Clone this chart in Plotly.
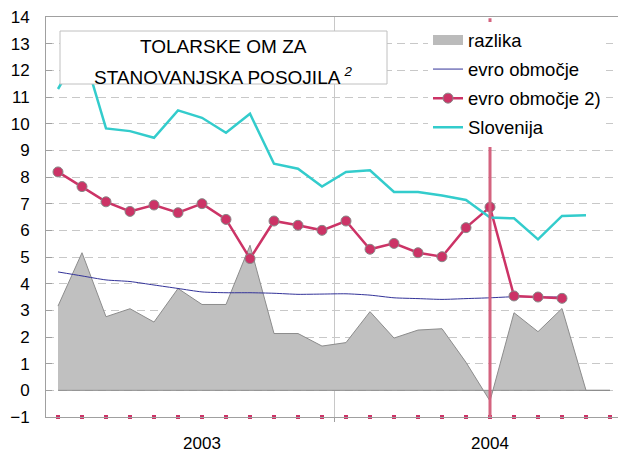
import plotly.graph_objects as go

# ---- data (month index 0 = Jan 2003 ... 23 = Dec 2004) ----
months = list(range(24))
slovenija = [11.3, 12.85, 9.82, 9.72, 9.47, 10.5, 10.22, 9.66, 10.37, 8.5, 8.31, 7.64,
             8.19, 8.25, 7.44, 7.44, 7.31, 7.14, 6.48, 6.45, 5.66, 6.54, 6.57, None]
evro2 = [8.19, 7.64, 7.07, 6.71, 6.95, 6.66, 7.0, 6.41, 4.94, 6.35, 6.19, 6.0,
         6.35, 5.29, 5.51, 5.16, 5.01, 6.1, 6.87, 3.54, 3.5, 3.45, None, None]
evro = [4.44, 4.29, 4.14, 4.08, 3.95, 3.82, 3.69, 3.66, 3.66, 3.64, 3.6, 3.61,
        3.62, 3.57, 3.47, 3.44, 3.41, 3.44, 3.47, 3.51, 3.5, 3.5, None, None]
razlika = [3.16, 5.16, 2.76, 3.06, 2.56, 3.82, 3.22, 3.22, 5.44, 2.13, 2.13, 1.66,
           1.79, 2.95, 1.96, 2.26, 2.31, 1.05, -0.4, 2.91, 2.2, 3.07, 0, 0]
bottom_marks = [-1, -1, -1, -1, -1, -1, -1, -1, -1, -1, -1, -1,
                -1, -1, -1, -1, -1, -1, -1, -1, -1, -1, -1, -1]
break_month = 18
year_ticks = [6, 18]
year_labels = ["2003", "2004"]
year_boundary = [11.5]
y_ticks = list(range(-1, 15))

FONT = "Liberation Sans, Arial, sans-serif"
W, H = 618, 453
ML, MR, MT, MB = 46, 0, 17, 36
pw = W - ML - MR
ph = H - MT - MB


def px_x(px):
    return (px - ML) / pw


def px_y(py):
    return 1 - (py - MT) / ph


fig = go.Figure()

# area polygon (closed so the base/edges are outlined like the original)
poly_x = months + months[::-1]
poly_y = razlika + [0] * len(months)
fig.add_trace(go.Scatter(
    x=poly_x, y=poly_y, mode="lines", fill="toself", name="razlika",
    fillcolor="#C0C0C0", line=dict(color="#8C8C8C", width=1),
    showlegend=False, legendgroup="a", hoverinfo="skip"))
# legend swatch for the area
fig.add_trace(go.Scatter(
    x=[None], y=[None], mode="lines", name="razlika", legendgroup="a",
    line=dict(color="#BBBBBB", width=10)))

fig.add_trace(go.Scatter(
    x=months, y=evro, mode="lines", name="evro območje", legendgroup="b",
    line=dict(color="#333399", width=1, shape="spline", smoothing=0.6)))

fig.add_trace(go.Scatter(
    x=months, y=evro2, mode="lines+markers", name="evro območje 2)", legendgroup="c",
    line=dict(color="#CC3366", width=2.5),
    marker=dict(size=10, color="#CC3366", line=dict(color="#888888", width=1))))

fig.add_trace(go.Scatter(
    x=months, y=slovenija, mode="lines", name="Slovenija", legendgroup="d",
    line=dict(color="#33CCCC", width=2.5)))

fig.add_trace(go.Scatter(
    x=months, y=bottom_marks, mode="markers", showlegend=False,
    marker=dict(symbol="square", size=4, color="#CC3366", line=dict(width=0)),
    cliponaxis=False, hoverinfo="skip"))

# vertical break line
fig.add_shape(type="line", xref="x", yref="paper", x0=break_month, x1=break_month,
              y0=0, y1=0.997, line=dict(color="#D4637F", width=3), layer="above")

# title box
fig.add_shape(type="rect", xref="paper", yref="paper",
              x0=px_x(60), x1=px_x(387), y0=px_y(84), y1=px_y(31),
              fillcolor="white", line=dict(color="#C0C0C0", width=1), layer="above")
cx = px_x(223.5)
fig.add_annotation(xref="paper", yref="paper", x=cx, y=px_y(47), text="TOLARSKE OM ZA",
                   showarrow=False, xanchor="center", yanchor="middle",
                   font=dict(family=FONT, size=19, color="black"))
fig.add_annotation(xref="paper", yref="paper", x=cx, y=px_y(75.5),
                   text="STANOVANJSKA POSOJILA <sup><i>2</i></sup>",
                   showarrow=False, xanchor="center", yanchor="middle",
                   font=dict(family=FONT, size=19, color="black"))

fig.update_layout(
    width=W, height=H,
    margin=dict(l=ML, r=MR, t=MT, b=MB, autoexpand=False),
    paper_bgcolor="white", plot_bgcolor="white",
    font=dict(family=FONT, size=17, color="black"),
    showlegend=True,
    legend=dict(x=px_x(428), y=px_y(21.5), xanchor="left", yanchor="top",
                bgcolor="white", borderwidth=0, tracegroupgap=2,
                traceorder="grouped",
                font=dict(family=FONT, size=18.5, color="black")),
    xaxis=dict(range=[-0.5, -0.5 + pw / 24], showgrid=False, zeroline=False,
               automargin=False,
               tickmode="array", tickvals=year_ticks, ticktext=year_labels,
               ticks="", showline=True, linecolor="#A0A0A0", linewidth=1,
               mirror=True, ticklabelstandoff=11,
               minor=dict(tickmode="array", tickvals=year_boundary, ticks="outside",
                          ticklen=4, tickcolor="#A0A0A0", showgrid=True,
                          gridcolor="#C8C8C8", gridwidth=1)),
    yaxis=dict(range=[-1, 14], tickmode="array", tickvals=y_ticks,
               automargin=False,
               showgrid=True, gridcolor="#C8C8C8", griddash="8px,5px", gridwidth=1,
               zeroline=False, showline=True, linecolor="#A0A0A0", linewidth=1,
               ticks="inside", ticklen=6, tickcolor="#A0A0A0",
               ticklabelstandoff=12),
)

fig.write_html("out.html", config={"displayModeBar": False},
               post_script="document.body.style.margin='0px';")
